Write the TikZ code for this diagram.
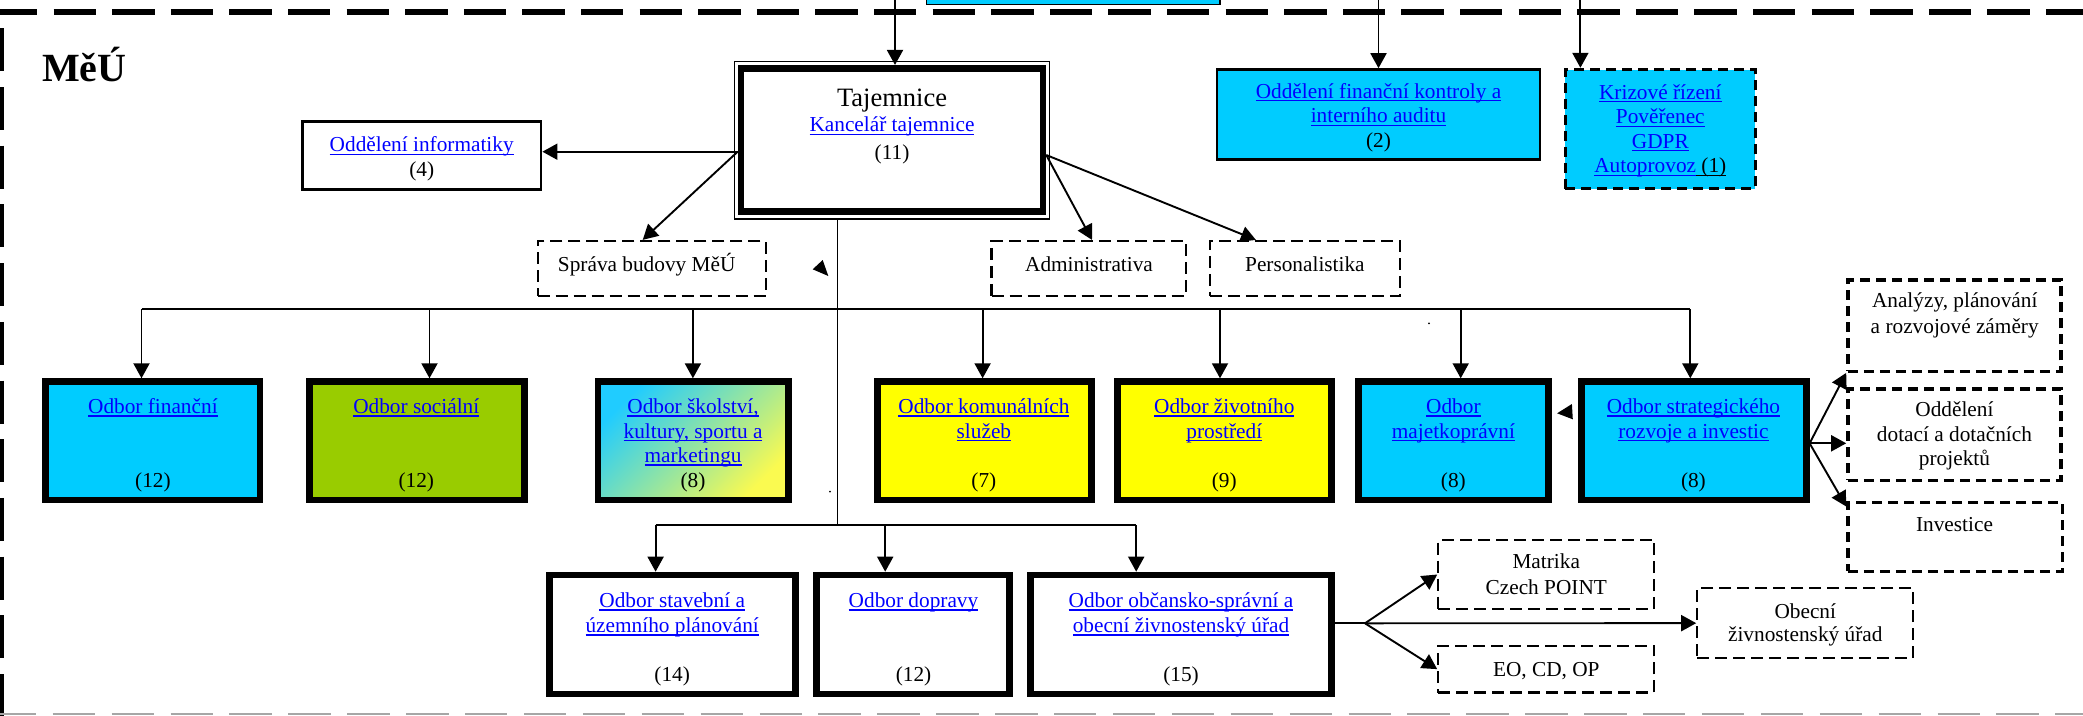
\documentclass[tikz,border=0pt]{standalone}
\usepackage{fontspec}
\setmainfont{Liberation Serif}
\usetikzlibrary{arrows.meta,calc}
\definecolor{cyanbox}{HTML}{00CCFF}
\definecolor{greenbox}{HTML}{99CC00}
\definecolor{yellowbox}{HTML}{FFFF00}
\definecolor{linkblue}{HTML}{0000FF}
\definecolor{gradA}{RGB}{32,204,255}
\definecolor{gradB}{RGB}{250,250,80}
\newsavebox\ulbox
\newcommand{\uln}[1]{\sbox\ulbox{#1}\rlap{\rule[-3.1pt]{\wd\ulbox}{1.2pt}}\usebox\ulbox}
\newcommand{\lk}[1]{{\color{linkblue}\uln{#1}}}
\begin{document}
\begin{tikzpicture}[x=1pt,y=-1pt,
  every node/.style={inner sep=0pt},
  tx/.style={align=center, font=\fontsize{21.3}{24.5}\selectfont},
  thickbox/.style={draw, line width=6.7pt},
  solidbox/.style={draw, line width=2.8pt},
  dbox/.style={draw, line width=2.2pt, dash pattern=on 12pt off 6pt},
  dboxthick/.style={draw, line width=3.4pt, dash pattern=on 10pt off 6pt},
  ln/.style={line width=1.9pt},
  conn/.style={ln, -{Triangle[length=15pt,width=16pt]}},
  sz/.style 2 args={minimum width=#1pt, minimum height=#2pt}
]
\useasboundingbox (0,0) rectangle (2083,715);

% frame
\draw[line width=5.7pt, dash pattern=on 42.4pt off 16.2pt] (-5,12.2) -- (2090,12.2);
\draw[line width=3.6pt, dash pattern=on 43pt off 15.7pt] (1.8,28.3) -- (1.8,720);
\draw[gray!70, line width=2.2pt, dash pattern=on 42.4pt off 16.5pt] (-6.2,713.6) -- (2090,713.6);

% top cyan box (cut off)
\draw[fill=cyanbox, line width=1.5pt] (926.3,-10) rectangle (1220,4.5);

\node[anchor=base west, font=\fontsize{40}{44}\selectfont\bfseries] (meu) at (42,81.7) {MěÚ};

% Tajemnice
\node[thickbox, sz={301.9}{143.4}] (taj) at (891.95,140) {};
\draw[line width=1.2pt] (734.4,61.7) rectangle (1049.6,219);
\node[font=\fontsize{26.5}{30}\selectfont, anchor=base] (tajt) at (892,106) {Tajemnice};
\node[tx, anchor=north] (tajk) at (892,114.55) {\strut\lk{Kancelář tajemnice}\\[2.8pt]\strut(11)};

% Oddeleni informatiky
\node[solidbox, sz={238.6}{67.9}] (inf) at (421.7,155.35) {};
\node[tx, anchor=north] (inft) at (421.7,134.55) {\strut\lk{Oddělení informatiky}\\[0.5pt]\strut(4)};

% dashed small boxes
\node[dbox, sz={228}{54.7}] (spr) at (651.7,268.35) {};
\node[tx, anchor=base] (sprt) at (646.7,271.7) {Správa budovy MěÚ};
\node[dbox, sz={194.2}{54.7}] (adm) at (1088.6,268.35) {};
\node[tx, anchor=base] (admt) at (1089,271.7) {Administrativa};
\node[dbox, sz={190.2}{54.7}] (per) at (1304.9,268.35) {};
\node[tx, anchor=base] (pert) at (1304.9,271.7) {Personalistika};

% kontrola
\node[solidbox, fill=cyanbox, sz={323}{90}] (kon) at (1378.5,114.6) {};
\node[tx, anchor=north] (kont) at (1378.5,80.85) {\strut\lk{Oddělení finanční kontroly a}\\\strut\lk{interního auditu}\\\strut(2)};

% krizove
\node[dboxthick, fill=cyanbox, sz={189.8}{119}] (kri) at (1660.3,129) {};
\node[tx, anchor=north] (krit) at (1660.3,81.85) {\strut\lk{Krizové řízení}\\\strut\lk{Pověřenec}\\\strut\lk{GDPR}\\\strut\lk{Autoprovoz}\uln{ (1)}};

% odbor row
\node[thickbox, fill=cyanbox, sz={214.3}{118.3}] (fin) at (152.9,440.8) {};
\node[tx, anchor=north] (fint) at (152.9,396.15) {\strut\lk{Odbor finanční}\\[49pt]\strut(12)};
\node[thickbox, fill=greenbox, sz={215}{118.3}] (soc) at (416.85,440.8) {};
\node[tx, anchor=north] (soct) at (416.3,396.15) {\strut\lk{Odbor sociální}\\[49pt]\strut(12)};
\node[thickbox, top color=gradA, bottom color=gradB, shading angle=45, sz={190.2}{118.3}] (sko) at (693.05,440.8) {};
\node[tx, anchor=north] (skot) at (693.05,396.15) {\strut\lk{Odbor školství,}\\\strut\lk{kultury, sportu a}\\\strut\lk{marketingu}\\\strut(8)};
\node[thickbox, fill=yellowbox, sz={214.3}{118.3}] (kom) at (984.5,440.8) {};
\node[tx, anchor=north] (komt) at (983.9,396.15) {\strut\lk{Odbor komunálních}\\\strut\lk{služeb}\\[24.5pt]\strut(7)};
\node[thickbox, fill=yellowbox, sz={214.3}{118.3}] (ziv) at (1224.3,440.8) {};
\node[tx, anchor=north] (zivt) at (1224.3,396.15) {\strut\lk{Odbor životního}\\\strut\lk{prostředí}\\[24.5pt]\strut(9)};
\node[thickbox, fill=cyanbox, sz={190.1}{118.3}] (maj) at (1453.3,440.8) {};
\node[tx, anchor=north] (majt) at (1453.4,396.15) {\strut\lk{Odbor}\\\strut\lk{majetkoprávní}\\[24.5pt]\strut(8)};
\node[thickbox, fill=cyanbox, sz={224.7}{118.3}] (str) at (1693.9,440.8) {};
\node[tx, anchor=north] (strt) at (1693.4,396.15) {\strut\lk{Odbor strategického}\\\strut\lk{rozvoje a investic}\\[24.5pt]\strut(8)};

% lower row
\node[thickbox, sz={245.9}{118.9}] (sta) at (672.2,634.5) {};
\node[tx, anchor=north] (stat) at (672.2,590.15) {\strut\lk{Odbor stavební a}\\[0.5pt]\strut\lk{územního plánování}\\[24.5pt]\strut(14)};
\node[thickbox, sz={193.3}{118.9}] (dop) at (912.8,634.5) {};
\node[tx, anchor=north] (dopt) at (913.5,590.15) {\strut\lk{Odbor dopravy}\\[49.5pt]\strut(12)};
\node[thickbox, sz={301.3}{118.9}] (obc) at (1181,634.5) {};
\node[tx, anchor=north] (obct) at (1181,590.15) {\strut\lk{Odbor občansko-správní a}\\[0.5pt]\strut\lk{obecní živnostenský úřad}\\[24.5pt]\strut(15)};

% right dashed boxes
\node[dboxthick, sz={213.1}{91.4}] (ana) at (1954.45,325.5) {};
\node[tx, anchor=north] (anat) at (1954.7,290.15) {\strut Analýzy, plánování\\[1.5pt]\strut a rozvojové záměry};
\node[dboxthick, sz={213.1}{91.4}] (dot) at (1954.45,434.5) {};
\node[tx, anchor=north] (dott) at (1954.45,399.55) {\strut Oddělení\\\strut dotací a dotačních\\\strut projektů};
\node[dboxthick, sz={214.6}{69}] (inv) at (1955.2,536.7) {};
\node[tx, anchor=base] (invt) at (1954.5,531.7) {Investice};

\node[dbox, sz={215.9}{69.4}] (mat) at (1546.25,574.5) {};
\node[tx, anchor=north] (matt) at (1546.25,551.15) {\strut Matrika\\[1.5pt]\strut Czech POINT};
\node[dbox, sz={215.9}{46.7}] (eo) at (1546.25,669.15) {};
\node[tx, anchor=base] (eot) at (1546.25,676.7) {EO, CD, OP};
\node[dbox, sz={215.9}{70.1}] (obe) at (1805.25,623.15) {};
\node[tx, anchor=north] (obet) at (1805.25,601.15) {\strut Obecní\\[-1.1pt]\strut živnostenský úřad};

% connectors from top
\coordinate (c1) at (895,0);
\coordinate (c2) at (1378.5,0);
\coordinate (c3) at (1580.4,0);
\draw[conn] (c1) -- (c1 |- taj.north);
\draw[conn] (c2) -- (kon.north);
\draw[conn] (c3) -- (c3 |- kri.north);

% from Tajemnice
\coordinate (tl) at ($(taj.west)+(0,11.7)$);
\draw[conn] (tl) -- (inf.east |- tl);
\draw[conn] (tl) -- ($(spr.north)+(-9,0)$);
\coordinate (tr) at ($(taj.east)+(0,15)$);
\draw[conn] (tr) -- ($(adm.north)+(3.4,0)$);
\draw[conn] (tr) -- ($(per.north)+(-49,0)$);

% trunk and buses
\coordinate (tb) at (837.5,219);
\coordinate (j2) at (837.5,525);
\draw[ln] (tb) -- (j2);
\coordinate (h1) at (141.5,309);
\coordinate (h7) at (1690.3,309);
\draw[ln] (h1) -- (h7);
\foreach \x/\n in {141.5/fin, 429.5/soc, 692.9/sko, 982.6/kom, 1220/ziv, 1460.7/maj, 1690.3/str}
  \draw[conn] (\x,309) -- (\x,309 |- \n.north);
\coordinate (b1) at (655.6,525);
\coordinate (b3) at (1136.2,525);
\draw[ln] (b1) -- (b3);
\foreach \x/\n in {655.6/sta, 885.2/dop, 1136.2/obc}
  \draw[conn] (\x,525) -- (\x,525 |- \n.north);

% right fork
\coordinate (fk) at (str.east |- 0,443.3);
\draw[conn] (fk) -- (ana.south west);
\draw[conn] (fk) -- (dot.west |- fk);
\draw[conn] (fk) -- ($(inv.north west)+(0,6)$);

% lower fork
\coordinate (fk2) at (1365,623.3);
\draw[ln] (obc.east |- fk2) -- (fk2);
\draw[conn] (fk2) -- (mat.west);
\draw[conn] (fk2) -- (eo.west);
\draw[conn] (fk2) -- (obe.west);

% stray marks
\fill (812.7,269.3) -- (822.7,260) -- (828.3,276) -- cycle;
\fill (1557.1,413.3) -- (1571.9,404) -- (1572.8,419.3) -- cycle;
\fill (830,491.7) circle[radius=1];
\fill (1429,323.3) circle[radius=1];
\end{tikzpicture}
\end{document}
